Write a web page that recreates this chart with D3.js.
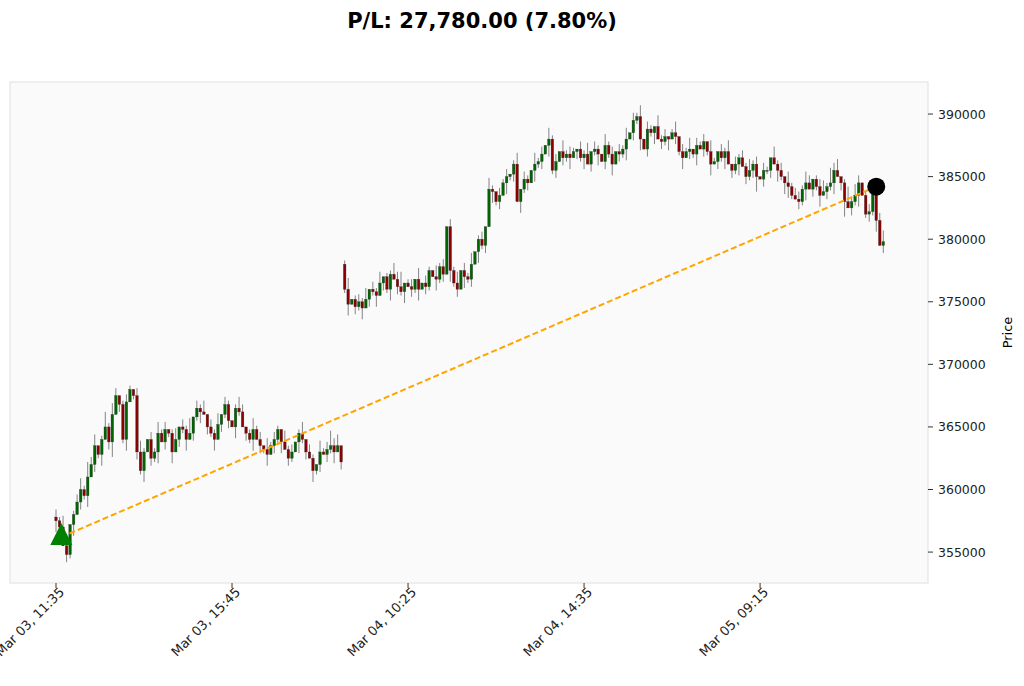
<!DOCTYPE html>
<html><head><meta charset="utf-8">
<script src="https://cdn.jsdelivr.net/npm/d3@7"></script>
<style>body{margin:0;background:#fff;font-family:"DejaVu Sans",sans-serif}</style>
</head><body><svg id="c" width="1024" height="686"></svg>
<script>
// closes in units of 100
const closesDay1 = [3575,3570,3555,3548,3572,3580,3590,3600,3595,3610,
3620,3635,3628,3640,3650,3638,3660,3675,3668,3640,
3670,3680,3675,3630,3615,3630,3640,3625,3630,3645,
3638,3648,3645,3630,3640,3650,3648,3640,3645,3658,
3665,3662,3660,3650,3645,3640,3652,3660,3668,3655,
3650,3665,3662,3650,3645,3640,3648,3640,3635,3632,
3628,3635,3640,3648,3638,3632,3625,3630,3638,3645,
3640,3630,3625,3615,3620,3630,3628,3632,3635,3630,
3635,3622];
const closesDay2 = [3760,3748,3752,3746,3750,3745,3752,3760,3758,3755,
3765,3770,3760,3772,3768,3762,3758,3765,3762,3760,
3768,3760,3765,3762,3775,3770,3768,3778,3772,3810,
3775,3765,3760,3775,3770,3768,3780,3790,3800,3795,
3810,3840,3838,3830,3835,3845,3850,3852,3860,3830,
3840,3848,3845,3855,3860,3862,3868,3875,3880,3855,
3862,3870,3865,3868,3865,3870,3872,3865,3868,3860,
3870,3872,3868,3862,3875,3868,3860,3870,3868,3872,
3880,3885,3895,3898,3880,3872,3888,3885,3890,3880,
3878,3882,3880,3885,3882,3870,3865,3870,3872,3868,
3875,3872,3878,3870,3860,3862,3870,3865,3870,3860,
3855,3860,3865,3858,3850,3855,3860,3850,3848,3855,
3855,3865,3860,3855,3850,3845,3842,3835,3832,3830,
3840,3845,3840,3848,3842,3835,3838,3842,3845,3855,
3850,3845,3830,3825,3830,3835,3845,3835,3820,3822,
3842,3815,3795,3798];
const sessionOpens = [3578, 3780];
const wickUp   = "2132012314230141320121023102131201302140213021302101320131203121031201302103124230130121302130113240120302103120213021301203102120130210312031203121021302103120213021302103120130213021203102130212131202103120312";
const wickDown = "3102130213021302402130121302130213021302130213021203102130213021302103120312021302130213021302130213021302103120312031203120312031203120312031202130213021302130213021302130213021302130213021302130212402120313";
const xTickIdx = [0, 50, 100, 150, 200];
const xTickLabels = ["Mar 03, 11:35","Mar 03, 15:45","Mar 04, 10:25","Mar 04, 14:35","Mar 05, 09:15"];
const yTicks = [355000,360000,365000,370000,375000,380000,385000,390000];
const entry = {i:1.5, p:356200}, exit = {i:233, p:384200};
const title = "P/L: 27,780.00 (7.80%)";

const data = [];
[closesDay1, closesDay2].forEach((arr, s) => {
  arr.forEach((c, k) => {
    const o = k === 0 ? sessionOpens[s] : arr[k-1];
    const i = data.length;
    const w1 = +wickUp[i % wickUp.length], w2 = +wickDown[i % wickDown.length];
    data.push({i, o:o*100, c:c*100, h:(Math.max(o,c)+w1*3)*100, l:(Math.min(o,c)-w2*3)*100});
  });
});

const svg = d3.select("#c");
const L=10, R=928, T=82, B=583;
const x = d3.scaleLinear().domain([-13.07, 247.7]).range([L, R]);
const y = d3.scaleLinear().domain([352530, 392560]).range([B, T]);

svg.append("rect").attr("x",L).attr("y",T).attr("width",R-L).attr("height",B-T)
  .attr("fill","#fafafa").attr("stroke","#e0e0e0");
svg.append("text").attr("x",482).attr("y",28).attr("text-anchor","middle")
  .attr("font-size",21).attr("font-weight","bold").text(title);

const g = svg.append("g");
g.selectAll("line.w").data(data).join("line")
  .attr("x1",d=>x(d.i)).attr("x2",d=>x(d.i)).attr("y1",d=>y(d.h)).attr("y2",d=>y(d.l))
  .attr("stroke","#666").attr("stroke-width",0.8);
g.selectAll("rect.b").data(data).join("rect")
  .attr("x",d=>x(d.i)-1.3).attr("width",2.6)
  .attr("y",d=>y(Math.max(d.o,d.c))).attr("height",d=>Math.max(1,Math.abs(y(d.o)-y(d.c))))
  .attr("fill",d=>d.c>=d.o?"#006400":"#8b0000").attr("stroke","#333").attr("stroke-width",0.3);

svg.append("line").attr("x1",x(entry.i)).attr("y1",y(entry.p)).attr("x2",x(exit.i)).attr("y2",y(exit.p))
  .attr("stroke","orange").attr("stroke-width",2).attr("stroke-dasharray","6,3");
const tx=x(entry.i), ty=y(entry.p);
svg.append("path").attr("d",`M${tx},${ty-14}L${tx+11},${ty+8}L${tx-11},${ty+8}Z`).attr("fill","green");
svg.append("circle").attr("cx",x(exit.i)).attr("cy",y(exit.p)).attr("r",9).attr("fill","black");

// y axis
const ya = svg.append("g");
yTicks.forEach(t=>{
  ya.append("line").attr("x1",R).attr("x2",R+5).attr("y1",y(t)).attr("y2",y(t)).attr("stroke","#333");
  ya.append("text").attr("x",R+10).attr("y",y(t)+4.5).attr("font-size",12.5).attr("fill","#222").text(t);
});
svg.append("text").attr("transform",`translate(1012,${(T+B)/2}) rotate(-90)`).attr("text-anchor","middle")
  .attr("font-size",13).text("Price");
// x axis
xTickIdx.forEach((t,k)=>{
  const px=x(t);
  svg.append("line").attr("x1",px).attr("x2",px).attr("y1",B).attr("y2",B+5).attr("stroke","#333");
  svg.append("text").attr("transform",`translate(${px+9},${B+10}) rotate(-45)`).attr("text-anchor","end")
    .attr("font-size",13).attr("fill","#222").text(xTickLabels[k]);
});
</script></body></html>
